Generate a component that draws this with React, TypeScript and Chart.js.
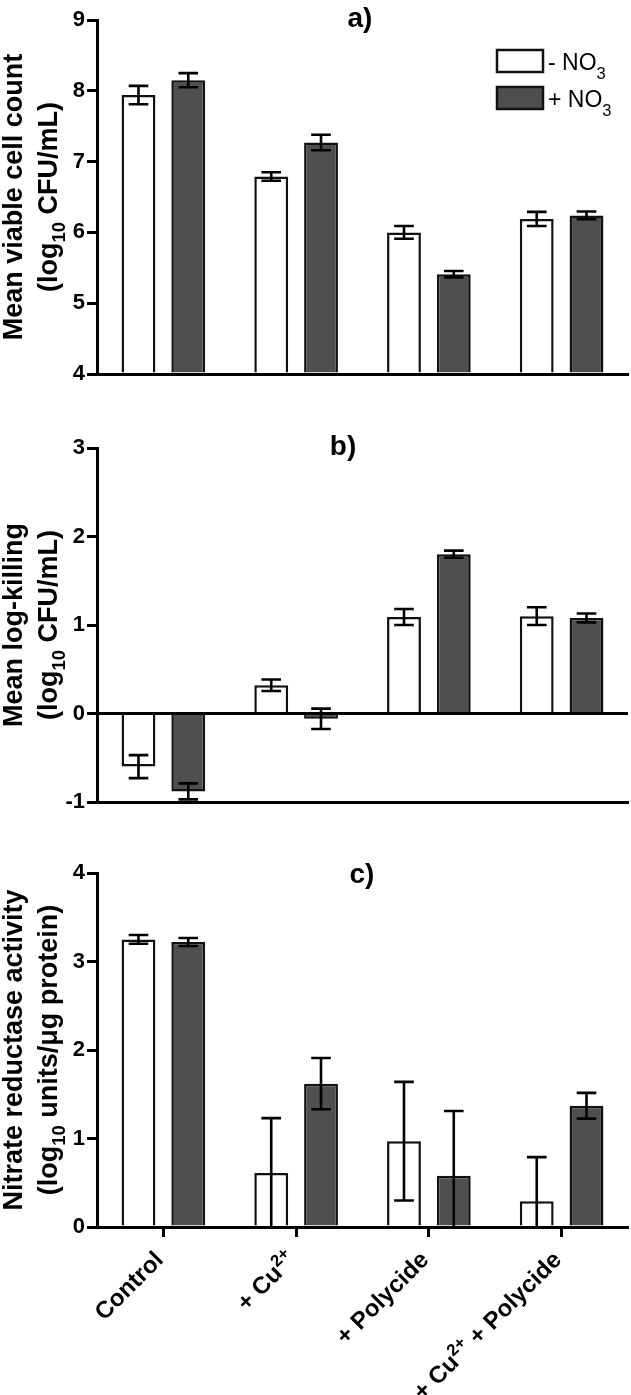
import React, { useEffect, useRef } from "react";
import { Chart, registerables } from "chart.js";

Chart.register(...registerables);

// ---------------- data ----------------
const categories = ["Control", "+ Cu^{2+}", "+ Polycide", "+ Cu^{2+} + Polycide"];
const seriesNames = ["- NO_{3}", "+ NO_{3}"];

// a) mean viable cell count (log10 CFU/mL)
const viableMinus = [7.94, 6.79, 6.0, 6.19];
const viableMinusErr = [0.13, 0.06, 0.09, 0.1];
const viablePlus = [8.15, 7.27, 5.41, 6.24];
const viablePlusErr = [0.1, 0.11, 0.045, 0.055];

// b) mean log-killing (log10 CFU/mL)
const killMinus = [-0.6, 0.32, 1.09, 1.1];
const killMinusErr = [0.13, 0.065, 0.09, 0.1];
const killPlus = [-0.88, -0.06, 1.8, 1.08];
const killPlusErr = [0.09, 0.115, 0.04, 0.05];

// c) nitrate reductase activity (log10 units/ug protein)
const nitrateMinus = [3.25, 0.61, 0.97, 0.29];
const nitrateMinusErr = [0.05, 0.62, 0.67, 0.5];
const nitratePlus = [3.22, 1.62, 0.58, 1.37];
const nitratePlusErr = [0.045, 0.29, 0.73, 0.145];

const yTicksA = [4, 5, 6, 7, 8, 9];
const yTicksB = [-1, 0, 1, 2, 3];
const yTicksC = [0, 1, 2, 3, 4];

const yTitleA = ["Mean viable cell count", "(log_{10} CFU/mL)"];
const yTitleB = ["Mean log-killing", "(log_{10} CFU/mL)"];
const yTitleC = ["Nitrate reductase activity", "(log_{10} units/\u03BCg protein)"];

const panelLetters = ["a)", "b)", "c)"];

// ---------------- style ----------------
const FONT = "'Liberation Sans', Arial, Helvetica, sans-serif";
const WHITE_FILL = "#ffffff";
const DARK_FILL = "#4f4f4f";
const EDGE = "#111111";

type Part = { t: string; k: "n" | "sup" | "sub" };

function parseRich(s: string): Part[] {
  const parts: Part[] = [];
  const re = /\^\{([^}]*)\}|_\{([^}]*)\}/g;
  let last = 0;
  let m: RegExpExecArray | null;
  while ((m = re.exec(s))) {
    if (m.index > last) parts.push({ t: s.slice(last, m.index), k: "n" });
    if (m[1] !== undefined) parts.push({ t: m[1], k: "sup" });
    else parts.push({ t: m[2], k: "sub" });
    last = re.lastIndex;
  }
  if (last < s.length) parts.push({ t: s.slice(last), k: "n" });
  return parts;
}

function setFont(ctx: CanvasRenderingContext2D, size: number, bold: boolean) {
  ctx.font = `${bold ? "bold " : ""}${size}px ${FONT}`;
}

function drawRich(
  ctx: CanvasRenderingContext2D,
  s: string,
  x: number,
  baseY: number,
  size: number,
  bold: boolean,
  align: "left" | "center" | "right",
  subDrop = 0.28,
  smallScale = 0.68
) {
  const parts = parseRich(s);
  let w = 0;
  for (const p of parts) {
    setFont(ctx, p.k === "n" ? size : size * smallScale, bold);
    w += ctx.measureText(p.t).width;
  }
  let cx = align === "left" ? x : align === "center" ? x - w / 2 : x - w;
  ctx.textAlign = "left";
  ctx.textBaseline = "alphabetic";
  ctx.fillStyle = "#000";
  for (const p of parts) {
    const sz = p.k === "n" ? size : size * smallScale;
    setFont(ctx, sz, bold);
    const dy = p.k === "sup" ? -size * 0.4 : p.k === "sub" ? size * subDrop : 0;
    ctx.fillText(p.t, cx, baseY + dy);
    cx += ctx.measureText(p.t).width;
  }
}

const errorBarPlugin = {
  id: "errorBars",
  afterDatasetsDraw(chart: any) {
    const ctx: CanvasRenderingContext2D = chart.ctx;
    const yScale = chart.scales.y;
    const area = chart.chartArea;
    ctx.save();
    ctx.beginPath();
    ctx.rect(area.left, area.top - 3, area.right - area.left, area.bottom - area.top + 3);
    ctx.clip();
    ctx.strokeStyle = "#000";
    ctx.lineWidth = 2.6;
    ctx.lineCap = "butt";
    chart.data.datasets.forEach((ds: any, di: number) => {
      const meta = chart.getDatasetMeta(di);
      meta.data.forEach((bar: any, i: number) => {
        const v = ds.data[i];
        const e = ds.errors[i];
        const x = bar.x;
        const half = bar.width * 0.29;
        const yt = yScale.getPixelForValue(v + e);
        const yb = yScale.getPixelForValue(v - e);
        ctx.beginPath();
        ctx.moveTo(x, yt);
        ctx.lineTo(x, yb);
        ctx.moveTo(x - half, yt);
        ctx.lineTo(x + half, yt);
        ctx.moveTo(x - half, yb);
        ctx.lineTo(x + half, yb);
        ctx.stroke();
      });
    });
    ctx.restore();
  },
};

type PanelProps = {
  top: number;
  height: number;
  minus: number[];
  minusErr: number[];
  plus: number[];
  plusErr: number[];
  yTicks: number[];
  yTitle: string[];
  letter: string;
  letterX: number;
  letterY: number;
  padTop: number;
  padRight: number;
  xAxisHeight: number;
  base: number;
  zeroLine?: boolean;
  showLegend?: boolean;
  showXLabels?: boolean;
};

function Panel(props: PanelProps) {
  const ref = useRef<HTMLCanvasElement | null>(null);
  useEffect(() => {
    if (!ref.current) return;
    const p = props;
    const decor = {
      id: "decor",
      afterDraw(chart: any) {
        const ctx: CanvasRenderingContext2D = chart.ctx;
        const area = chart.chartArea;
        ctx.save();
        // panel letter
        drawRich(ctx, p.letter, p.letterX, p.letterY + 10, 28, true, "center");
        // y title
        const cy = (area.top + area.bottom) / 2;
        const baselines = [22, 57];
        p.yTitle.forEach((line, li) => {
          ctx.save();
          ctx.translate(baselines[li], cy);
          ctx.rotate(-Math.PI / 2);
          drawRich(ctx, line, 0, 0, 27, true, "center", 0.3);
          ctx.restore();
        });
        // legend
        if (p.showLegend) {
          const fills = [WHITE_FILL, DARK_FILL];
          seriesNames.forEach((name, si) => {
            const bx = area.right - 131;
            const by = area.top + 30 + si * 37;
            ctx.fillStyle = fills[si];
            ctx.fillRect(bx, by, 46, 22);
            ctx.strokeStyle = EDGE;
            ctx.lineWidth = 2.5;
            ctx.strokeRect(bx, by, 46, 22);
            drawRich(ctx, name, bx + 51, by + 20, 23, false, "left", 0.38, 0.72);
          });
        }
        // x labels
        if (p.showXLabels) {
          const xs = chart.scales.x;
          categories.forEach((lab, i) => {
            const tx = xs.getPixelForValue(i);
            ctx.save();
            ctx.translate(tx - 5, area.bottom + 28);
            ctx.rotate(-Math.PI / 4);
            drawRich(ctx, lab, 0, 24 * 0.36, 24, true, "right", 0.28, 0.7);
            ctx.restore();
          });
        }
        ctx.restore();
      },
    };
    const yMin = p.yTicks[0];
    const yMax = p.yTicks[p.yTicks.length - 1];
    const common = {
      borderColor: EDGE,
      borderWidth: 2.5,
      borderSkipped: "start",
      base: p.base,
      categoryPercentage: 0.75,
      barPercentage: 0.68,
    };
    const chart = new Chart(ref.current, {
      type: "bar",
      data: {
        labels: categories,
        datasets: [
          {
            ...common,
            label: seriesNames[0],
            data: p.minus,
            errors: p.minusErr,
            backgroundColor: WHITE_FILL,
          } as any,
          {
            ...common,
            label: seriesNames[1],
            data: p.plus,
            errors: p.plusErr,
            backgroundColor: DARK_FILL,
          } as any,
        ],
      },
      options: {
        responsive: false,
        animation: false,
        events: [],
        layout: { padding: { left: 0, top: p.padTop, right: p.padRight, bottom: 0 } },
        plugins: {
          legend: { display: false },
          tooltip: { enabled: false },
          title: { display: false },
        },
        scales: {
          x: {
            grid: {
              display: true,
              drawOnChartArea: false,
              drawTicks: !!p.showXLabels,
              tickLength: 10,
              tickWidth: 3,
              tickColor: "#000",
              offset: false,
            },
            border: { display: true, color: "#000", width: 3 },
            ticks: { display: false },
            afterFit: (s: any) => {
              s.height = p.xAxisHeight;
            },
          } as any,
          y: {
            min: yMin,
            max: yMax,
            afterBuildTicks: (s: any) => {
              s.ticks = p.yTicks.map((v) => ({ value: v }));
            },
            ticks: {
              font: { family: FONT, size: 22, weight: "bold" },
              color: "#000",
              padding: 2,
            },
            grid: {
              display: true,
              drawOnChartArea: !!p.zeroLine,
              drawTicks: true,
              tickLength: 10,
              tickWidth: 3,
              tickColor: "#000",
              lineWidth: 3,
              color: (c: any) => (c.tick && c.tick.value === 0 ? "#000" : "rgba(0,0,0,0)"),
            },
            border: { display: true, color: "#000", width: 3 },
            afterFit: (s: any) => {
              s.width = 97;
            },
          } as any,
        },
      },
      plugins: [errorBarPlugin, decor],
    });
    return () => chart.destroy();
  }, []);
  return (
    <canvas
      ref={ref}
      width={631}
      height={props.height}
      style={{ position: "absolute", left: 0, top: props.top, width: 631, height: props.height }}
    />
  );
}

export default function App() {
  return (
    <div style={{ position: "absolute", left: 0, top: 0, width: 631, height: 1395, background: "#fff" }}>
      <Panel
        top={0}
        height={400}
        minus={viableMinus}
        minusErr={viableMinusErr}
        plus={viablePlus}
        plusErr={viablePlusErr}
        yTicks={yTicksA}
        yTitle={yTitleA}
        letter={panelLetters[0]}
        letterX={360}
        letterY={17}
        padTop={20}
        padRight={3}
        xAxisHeight={26}
        base={4}
        showLegend
      />
      <Panel
        top={400}
        height={425}
        minus={killMinus}
        minusErr={killMinusErr}
        plus={killPlus}
        plusErr={killPlusErr}
        yTicks={yTicksB}
        yTitle={yTitleB}
        letter={panelLetters[1]}
        letterX={343}
        letterY={45}
        padTop={48}
        padRight={3}
        xAxisHeight={23}
        base={0}
        zeroLine
      />
      <Panel
        top={825}
        height={570}
        minus={nitrateMinus}
        minusErr={nitrateMinusErr}
        plus={nitratePlus}
        plusErr={nitratePlusErr}
        yTicks={yTicksC}
        yTitle={yTitleC}
        letter={panelLetters[2]}
        letterX={362}
        letterY={48}
        padTop={48}
        padRight={3}
        xAxisHeight={168}
        base={0}
        showXLabels
      />
    </div>
  );
}
